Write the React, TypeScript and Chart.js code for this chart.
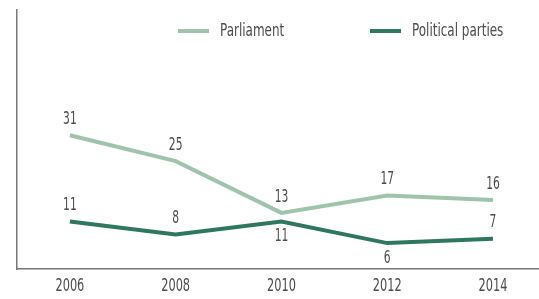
import React, { useEffect, useRef } from "react";
import { Chart, registerables } from "chart.js";

Chart.register(...registerables);

const years = [2006, 2008, 2010, 2012, 2014];
const parliament = [31, 25, 13, 17, 16];
const parties = [11, 8, 11, 6, 7];
const tickYears = [2006, 2008, 2010, 2012, 2014];
const partiesLabelSide = ["above", "above", "below", "below", "above"];
const parliamentLabelSide = ["above", "above", "above", "above", "above"];

const FONT = "'DejaVu Sans Condensed', 'Liberation Sans Narrow', sans-serif";
const LIGHT = "#a0c4ab";
const DARK = "#2e7761";
const TEXT = "#4d4d4d";

function drawNarrowText(ctx: any, text: string, x: number, y: number, align: string, squeeze: number) {
  ctx.save();
  ctx.translate(x, y);
  ctx.scale(squeeze, 1);
  ctx.textAlign = align;
  ctx.fillText(text, 0, 0);
  ctx.restore();
}

const labelPlugin = {
  id: "valueLabels",
  afterDatasetsDraw(chart: any) {
    const ctx = chart.ctx;
    ctx.save();
    ctx.font = `18px ${FONT}`;
    ctx.fillStyle = TEXT;
    ctx.textBaseline = "middle";
    const sides = [parliamentLabelSide, partiesLabelSide];
    chart.data.datasets.forEach((ds: any, di: number) => {
      const meta = chart.getDatasetMeta(di);
      meta.data.forEach((pt: any, i: number) => {
        const side = sides[di][i];
        const dy = side === "above" ? -16 : 15;
        drawNarrowText(ctx, String(ds.data[i].y), pt.x, pt.y + dy, "center", 0.66);
      });
    });
    ctx.restore();
  },
};

const tickPlugin = {
  id: "narrowTicks",
  afterDraw(chart: any) {
    const ctx = chart.ctx;
    const xs = chart.scales.x;
    ctx.save();
    ctx.font = `18px ${FONT}`;
    ctx.fillStyle = TEXT;
    ctx.textBaseline = "middle";
    tickYears.forEach((yr) => {
      drawNarrowText(ctx, String(yr), xs.getPixelForValue(yr), xs.bottom + 17, "center", 0.7);
    });
    ctx.restore();
  },
};

const legendPlugin = {
  id: "customLegend",
  afterDraw(chart: any) {
    const ctx = chart.ctx;
    ctx.save();
    ctx.font = `18px ${FONT}`;
    ctx.textBaseline = "middle";
    const items = [
      { label: "Parliament", color: LIGHT, x: 178 },
      { label: "Political parties", color: DARK, x: 370 },
    ];
    const y = 31;
    items.forEach((it) => {
      ctx.strokeStyle = it.color;
      ctx.lineWidth = 4;
      ctx.beginPath();
      ctx.moveTo(it.x, y);
      ctx.lineTo(it.x + 31, y);
      ctx.stroke();
      ctx.fillStyle = TEXT;
      drawNarrowText(ctx, it.label, it.x + 42, y, "left", 0.74);
    });
    ctx.restore();
  },
};

export default function App() {
  const ref = useRef<HTMLCanvasElement | null>(null);
  useEffect(() => {
    if (!ref.current) return;
    const chart = new Chart(ref.current, {
      type: "line",
      data: {
        datasets: [
          {
            label: "Parliament",
            data: years.map((x, i) => ({ x, y: parliament[i] })),
            borderColor: LIGHT,
            backgroundColor: LIGHT,
            borderWidth: 4,
            pointRadius: 0,
            tension: 0,
          },
          {
            label: "Political parties",
            data: years.map((x, i) => ({ x, y: parties[i] })),
            borderColor: DARK,
            backgroundColor: DARK,
            borderWidth: 4,
            pointRadius: 0,
            tension: 0,
          },
        ],
      },
      options: {
        animation: false,
        responsive: false,
        maintainAspectRatio: false,
        layout: { padding: { left: 17, top: 10, right: 0, bottom: 30 } },
        plugins: {
          legend: { display: false },
          tooltip: { enabled: false },
        },
        scales: {
          x: {
            type: "linear",
            min: 2005,
            max: 2014.87,
            grid: { display: false, drawTicks: false },
            border: { display: true, color: "#777777", width: 1.5 },
            ticks: { display: false },
          },
          y: {
            min: 0,
            max: 60,
            grid: { display: false, drawTicks: false },
            border: { display: true, color: "#777777", width: 1.5 },
            ticks: { display: false },
          },
        },
      },
      plugins: [labelPlugin, legendPlugin, tickPlugin],
    });
    return () => chart.destroy();
  }, []);
  return (
    <div style={{ position: "absolute", left: 0, top: 0, width: 539, height: 299 }}>
      <canvas ref={ref} width={539} height={299} />
    </div>
  );
}
